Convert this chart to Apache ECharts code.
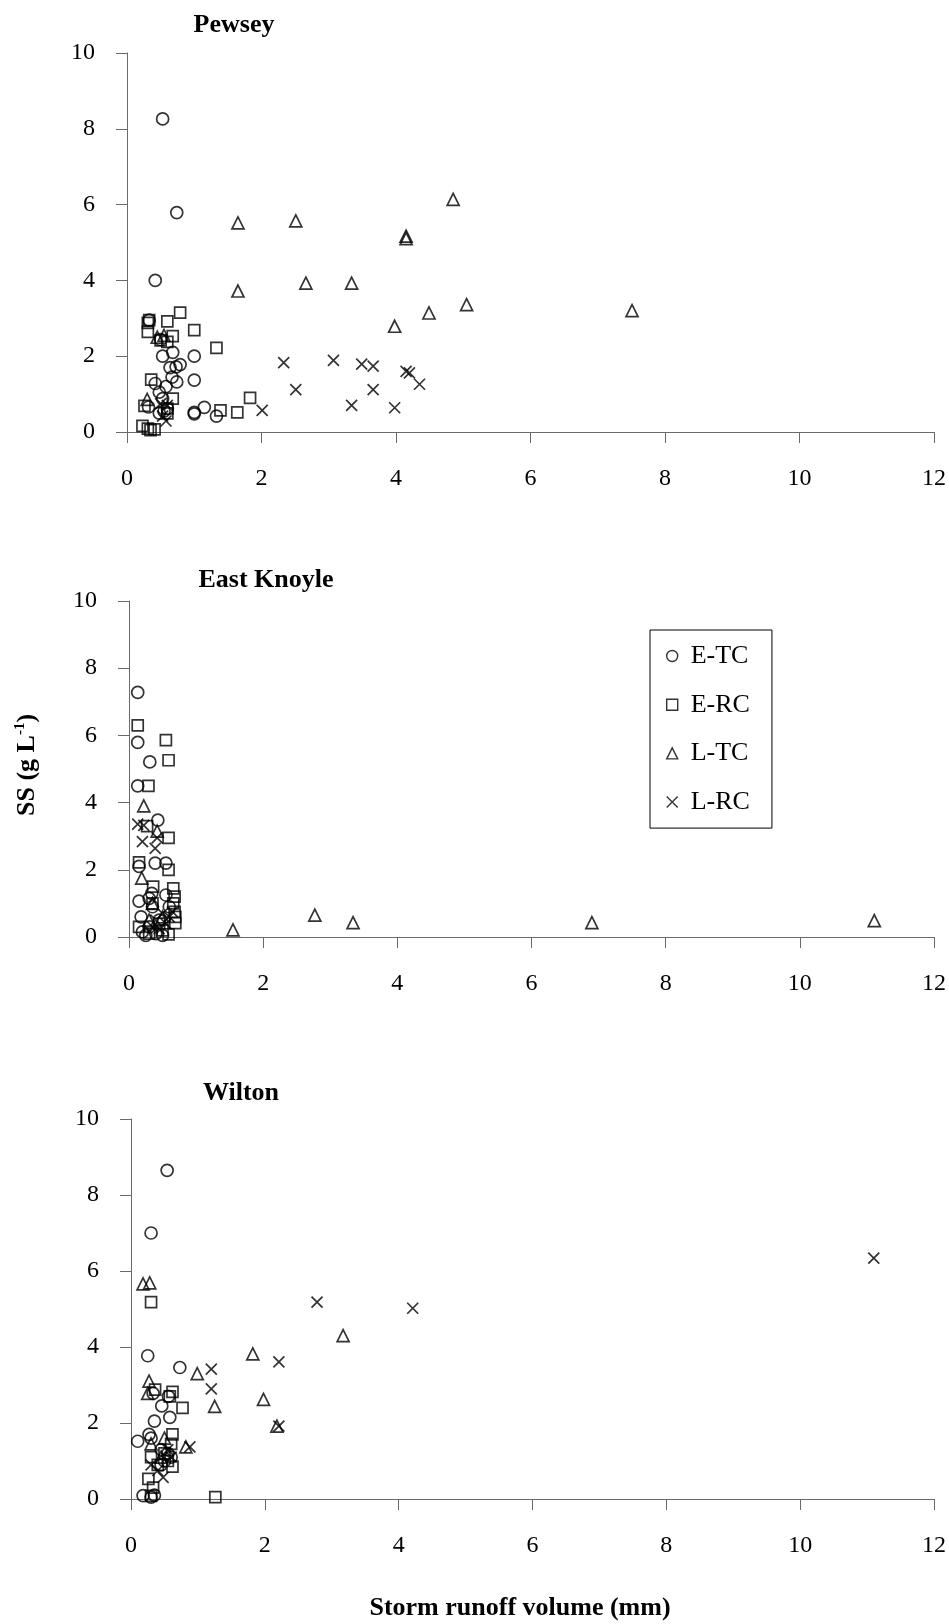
<!DOCTYPE html>
<html>
<head>
<meta charset="utf-8">
<script src="https://cdn.jsdelivr.net/npm/echarts@6/dist/echarts.min.js"></script>
<style>
  html, body { margin: 0; padding: 0; background: #fff; }
  #chart { width: 949px; height: 1624px; }
</style>
</head>
<body>
<div id="chart"></div>
<script>
// ---------------- DATA ----------------
const siteNames = ['Pewsey', 'East Knoyle', 'Wilton'];
const seriesNames = ['E-TC', 'E-RC', 'L-TC', 'L-RC'];
const xTickValues = [0, 2, 4, 6, 8, 10, 12];
const yTickValues = [0, 2, 4, 6, 8, 10];

// Pewsey
const pewseyETC = [[0.53,8.26],[0.74,5.79],[0.42,4.0],[0.53,2.0],[0.68,2.1],[1.0,2.0],[0.64,1.7],[0.79,1.78],[0.73,1.72],
  [0.67,1.45],[0.74,1.32],[1.0,1.37],[0.42,1.28],[0.58,1.2],[0.48,1.05],[0.53,0.88],[0.32,0.66],[0.48,0.5],[1.0,0.48],
  [1.0,0.52],[1.15,0.65],[1.33,0.42],[0.55,0.55],[0.5,2.44],[0.33,2.95],[0.6,0.62]];
const pewseyERC = [[0.33,2.95],[0.31,2.88],[0.31,2.64],[0.6,2.92],[0.79,3.15],[1.0,2.69],[0.68,2.53],[0.5,2.42],[0.6,2.38],
  [1.33,2.22],[0.36,1.38],[0.68,0.88],[0.26,0.69],[0.6,0.49],[1.39,0.57],[1.64,0.52],[1.83,0.9],[0.23,0.16],[0.31,0.09],
  [0.41,0.07],[0.35,0.05],[0.6,0.62]];
const pewseyLTC = [[1.65,5.52],[2.51,5.57],[1.65,3.72],[2.66,3.93],[3.34,3.93],[3.98,2.79],[4.85,6.14],[4.15,5.17],[4.15,5.1],
  [4.49,3.14],[5.05,3.36],[7.51,3.2],[0.45,2.5],[0.3,0.86],[0.55,2.55]];
const pewseyLRC = [[2.33,1.83],[3.07,1.89],[3.49,1.79],[3.66,1.74],[2.51,1.12],[3.66,1.12],[3.34,0.7],[3.98,0.64],[2.01,0.57],
  [4.15,1.6],[4.2,1.56],[4.35,1.26],[0.58,0.29],[0.53,0.42],[0.6,0.7],[0.5,0.75]];

// East Knoyle
const knoyleETC = [[0.13,7.28],[0.13,5.79],[0.31,5.21],[0.13,4.5],[0.43,3.48],[0.39,2.2],[0.15,2.1],[0.55,2.2],[0.55,1.25],
  [0.15,1.07],[0.34,1.3],[0.3,1.15],[0.18,0.6],[0.35,0.9],[0.45,0.5],[0.2,0.15],[0.25,0.05],[0.4,0.1],[0.5,0.05],[0.3,0.3],[0.6,0.9]];
const knoyleERC = [[0.13,6.3],[0.55,5.86],[0.59,5.26],[0.29,4.5],[0.27,3.3],[0.59,2.95],[0.15,2.22],[0.59,2.0],[0.36,1.5],
  [0.66,1.45],[0.68,1.2],[0.69,0.41],[0.59,0.08],[0.15,0.3],[0.66,1.0],[0.35,1.0],[0.45,0.4],[0.69,0.6],[0.5,0.2],[0.3,0.1],[0.68,0.75]];
const knoyleLTC = [[0.22,3.9],[0.42,3.15],[0.19,1.75],[1.55,0.21],[2.77,0.65],[3.34,0.43],[6.9,0.43],[11.11,0.49],[0.35,1.0],
  [0.5,0.6],[0.3,0.5]];
const knoyleLRC = [[0.13,3.36],[0.22,3.32],[0.2,2.84],[0.39,2.64],[0.42,2.95],[0.4,0.5],[0.5,0.7],[0.6,0.6],[0.65,0.75],
  [0.35,0.3],[0.55,0.4],[0.45,0.25]];

// Wilton
const wiltonETC = [[0.54,8.65],[0.3,7.0],[0.25,3.77],[0.73,3.46],[0.1,1.52],[0.33,2.78],[0.35,2.05],[0.58,2.15],[0.46,2.45],
  [0.56,2.7],[0.27,1.7],[0.3,1.6],[0.45,1.3],[0.55,1.2],[0.5,1.0],[0.6,1.1],[0.45,0.9],[0.18,0.09],[0.3,0.05],[0.35,0.1]];
const wiltonERC = [[0.3,5.18],[0.36,2.88],[0.62,2.82],[0.58,2.7],[0.77,2.4],[0.62,1.7],[0.6,1.45],[0.5,1.2],[0.3,1.1],
  [0.62,0.85],[0.26,0.53],[0.33,0.3],[0.3,0.08],[1.26,0.05],[0.55,1.0],[0.4,0.9]];
const wiltonLTC = [[0.18,5.66],[0.28,5.69],[1.82,3.82],[0.99,3.3],[1.25,2.44],[0.27,3.1],[0.25,2.78],[3.17,4.3],[1.98,2.62],
  [2.18,1.92],[0.82,1.37],[0.3,1.45],[0.5,1.6],[0.45,1.1]];
const wiltonLRC = [[1.2,3.42],[1.2,2.9],[0.88,1.37],[2.78,5.18],[4.21,5.02],[11.1,6.34],[2.21,3.61],[2.21,1.92],[0.48,0.57],
  [0.3,0.9],[0.55,1.3],[0.4,0.75],[0.6,1.1]];

const siteData = [
  [pewseyETC, pewseyERC, pewseyLTC, pewseyLRC],
  [knoyleETC, knoyleERC, knoyleLTC, knoyleLRC],
  [wiltonETC, wiltonERC, wiltonLTC, wiltonLRC]
];

// ---------------- STYLE / LAYOUT ----------------
const FONT = '"Liberation Serif", "Times New Roman", serif';
const AXIS_COLOR = '#6a6a6a';
const xPath = 'path://M0,0L10,10M10,0L0,10';
const symbols = ['circle', 'rect', 'triangle', xPath];
const symbolSizes = [12, 11, 12, 11];

const grids = [
  { left: 127, top: 53,  width: 807, height: 379 },
  { left: 129, top: 601, width: 805, height: 336 },
  { left: 131, top: 1119, width: 803, height: 380 }
];
const titlePos = [[234, 25], [266, 580], [241, 1093]];

const chart = echarts.init(document.getElementById('chart'), null, { renderer: 'canvas' });

const xAxes = grids.map((g, i) => ({
  gridIndex: i, type: 'value',
  min: xTickValues[0], max: xTickValues[xTickValues.length - 1], interval: xTickValues[1] - xTickValues[0],
  axisLine: { show: true, onZero: false, lineStyle: { color: AXIS_COLOR, width: 1 } },
  axisTick: { show: true, inside: false, length: 11, lineStyle: { color: AXIS_COLOR, width: 1 } },
  splitLine: { show: false },
  axisLabel: { color: '#000', fontFamily: FONT, fontSize: 24, margin: 35 }
}));
const yAxes = grids.map((g, i) => ({
  gridIndex: i, type: 'value',
  min: yTickValues[0], max: yTickValues[yTickValues.length - 1], interval: yTickValues[1] - yTickValues[0],
  axisLine: { show: true, onZero: false, lineStyle: { color: AXIS_COLOR, width: 1 } },
  axisTick: { show: true, inside: false, length: 11, lineStyle: { color: AXIS_COLOR, width: 1 } },
  splitLine: { show: false },
  axisLabel: { color: '#000', fontFamily: FONT, fontSize: 24, margin: 32 }
}));

const series = [];
siteData.forEach((sets, i) => {
  sets.forEach((d, j) => {
    series.push({
      type: 'scatter',
      name: seriesNames[j],
      xAxisIndex: i, yAxisIndex: i,
      data: d,
      symbol: symbols[j],
      symbolSize: symbolSizes[j],
      itemStyle: { color: 'transparent', borderColor: '#000', borderWidth: 1.7 },
      emphasis: { disabled: true },
      silent: true
    });
  });
});

const graphics = siteNames.map((n, i) => ({
  type: 'text', x: titlePos[i][0], y: titlePos[i][1],
  style: { text: n, font: 'bold 26px ' + FONT, fill: '#000',
           textAlign: 'center', textVerticalAlign: 'middle', align: 'center', verticalAlign: 'middle' }
}));
graphics.push({
  type: 'text', x: 520, y: 1608,
  style: { text: 'Storm runoff volume (mm)', font: 'bold 26px ' + FONT, fill: '#000',
           textAlign: 'center', textVerticalAlign: 'middle', align: 'center', verticalAlign: 'middle' }
});
graphics.push({
  type: 'text', x: 27, y: 765, rotation: Math.PI / 2,
  style: {
    text: '{a|SS (g L}{b|-1}{a|)}',
    rich: {
      a: { fontFamily: FONT, fontWeight: 'bold', fontSize: 26, fill: '#000', color: '#000', lineHeight: 28 },
      b: { fontFamily: FONT, fontWeight: 'bold', fontSize: 15, fill: '#000', color: '#000', verticalAlign: 'top', lineHeight: 28, padding: [0, 0, 8, 0] }
    },
    textAlign: 'center', textVerticalAlign: 'middle', align: 'center', verticalAlign: 'middle'
  }
});

chart.setOption({
  animation: false,
  backgroundColor: '#fff',
  grid: grids,
  xAxis: xAxes,
  yAxis: yAxes,
  legend: {
    orient: 'vertical',
    left: 650, top: 630,
    padding: [13, 22, 13, 16],
    itemGap: 22.7,
    itemWidth: 11, itemHeight: 11,
    borderColor: '#000', borderWidth: 1,
    backgroundColor: '#fff',
    selectedMode: false,
    data: seriesNames.map((n, j) => ({ name: n, icon: symbols[j] })),
    itemStyle: { color: 'transparent', borderColor: '#000', borderWidth: 1.4 },
    textStyle: { color: '#000', fontFamily: FONT, fontSize: 26, padding: [0, 0, 0, 8] }
  },
  graphic: graphics,
  series: series
});
</script>
</body>
</html>
